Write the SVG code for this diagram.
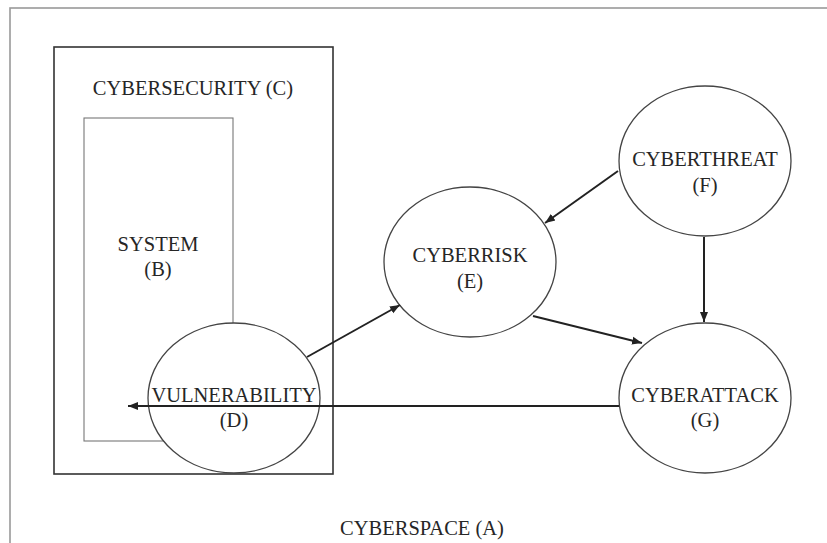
<svg xmlns="http://www.w3.org/2000/svg" width="827" height="543" viewBox="0 0 827 543">
<defs>
<style>
.t{font-family:"Liberation Serif","Times New Roman",serif;font-size:20.5px;fill:#262626;text-anchor:middle}
.n{fill:#fff;stroke:#444;stroke-width:1.3}
.c{stroke:#222;stroke-width:2;fill:none}
</style>
<marker id="ah" viewBox="0 0 10 10" refX="10" refY="5" markerWidth="5" markerHeight="5" orient="auto" markerUnits="strokeWidth">
<path d="M0,1 L10,5 L0,9 Z" fill="#222"/>
</marker>
</defs>
<rect width="827" height="543" fill="#fff"/>
<g id="A">
<rect x="10" y="8" width="840" height="560" fill="none" stroke="#999" stroke-width="1.6"/>
<text class="t" x="422" y="535">CYBERSPACE (A)</text>
</g>
<g id="C">
<rect x="54" y="47" width="279" height="427" fill="none" stroke="#333" stroke-width="1.6"/>
<text class="t" x="193" y="95">CYBERSECURITY (C)</text>
</g>
<g id="B">
<rect x="84" y="118" width="149" height="323" fill="none" stroke="#777" stroke-width="1.1"/>
<text class="t" x="158" y="251">SYSTEM</text>
<text class="t" x="158" y="276">(B)</text>
</g>
<g id="D">
<ellipse class="n" cx="234" cy="398" rx="86" ry="75"/>
<text class="t" x="234" y="402">VULNERABILITY</text>
<text class="t" x="234" y="427">(D)</text>
</g>
<g id="E">
<ellipse class="n" cx="470" cy="262" rx="86" ry="75"/>
<text class="t" x="470" y="262">CYBERRISK</text>
<text class="t" x="470" y="288">(E)</text>
</g>
<g id="F">
<ellipse class="n" cx="705" cy="161" rx="86" ry="75"/>
<text class="t" x="705" y="166">CYBERTHREAT</text>
<text class="t" x="705" y="192">(F)</text>
</g>
<g id="G">
<ellipse class="n" cx="705" cy="398" rx="86" ry="75"/>
<text class="t" x="705" y="402">CYBERATTACK</text>
<text class="t" x="705" y="427">(G)</text>
</g>
<g id="connectors">
<line class="c" x1="619" y1="406" x2="128" y2="406" stroke-width="1.6" marker-end="url(#ah)"/>
<line class="c" x1="307" y1="357" x2="400" y2="305" marker-end="url(#ah)"/>
<line class="c" x1="618" y1="171" x2="545" y2="223" marker-end="url(#ah)"/>
<line class="c" x1="533" y1="316" x2="642" y2="343" marker-end="url(#ah)"/>
<line class="c" x1="704" y1="237" x2="704" y2="322" marker-end="url(#ah)"/>
</g>
</svg>
